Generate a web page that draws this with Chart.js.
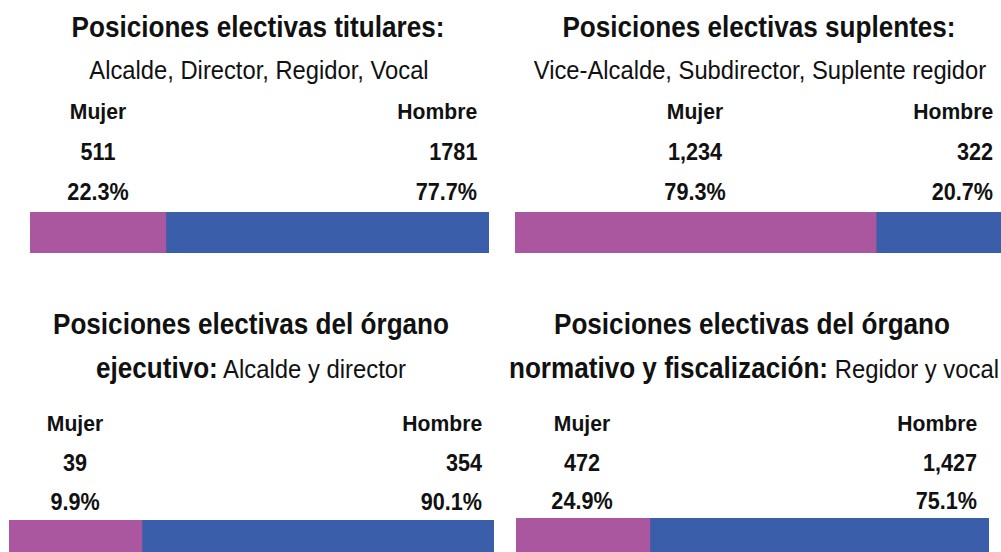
<!DOCTYPE html>
<html lang="es">
<head>
<meta charset="utf-8">
<script src="https://cdn.jsdelivr.net/npm/chart.js@4/dist/chart.umd.min.js"></script>
<style>
  html, body { margin: 0; padding: 0; background: #fff; }
  #page {
    position: relative; width: 1001px; height: 552px; overflow: hidden;
    font-family: "Liberation Sans", Arial, sans-serif;
    color: #111;
  }
  .t { position: absolute; white-space: nowrap; line-height: 1; }
  .b { font-weight: bold; }
  canvas { position: absolute; }
</style>
</head>
<body>
<div id="page"></div>
<script>
// chart data
const titleLines = ['Posiciones electivas titulares:', 'Posiciones electivas suplentes:',
  'Posiciones electivas del órgano', 'Posiciones electivas del órgano'];
const subtitleBold = ['', '', 'ejecutivo:', 'normativo y fiscalización:'];
const subtitleText = ['Alcalde, Director, Regidor, Vocal', 'Vice-Alcalde, Subdirector, Suplente regidor',
  'Alcalde y director', 'Regidor y vocal'];
const sexLabels = ['Mujer', 'Hombre'];
const mujerCount = ['511', '1,234', '39', '472'];
const hombreCount = ['1781', '322', '354', '1,427'];
const mujerPct = ['22.3%', '79.3%', '9.9%', '24.9%'];
const hombrePct = ['77.7%', '20.7%', '90.1%', '75.1%'];
// bar segment lengths as drawn in the picture (share of bar, %)
const barMujer = [29.6, 74.3, 27.4, 28.3];
const barHombre = [70.4, 25.7, 72.6, 71.7];

const MUJER_COLOR = '#aa579f';
const HOMBRE_COLOR = '#3a5ea9';

// where each panel goes
const panels = [
  {titleX: 258, titleY: 27, subX: 259, subY: 70, leftX: 98, rightX: 477, rows: [112, 152, 192],
   bar: {x: 30, y: 212, w: 459, h: 41}},
  {titleX: 759, titleY: 27, subX: 760, subY: 70, leftX: 695, rightX: 993, rows: [112, 152, 192],
   bar: {x: 515, y: 212, w: 486, h: 41}},
  {titleX: 251, titleY: 324, subX: 251, subY: 367, leftX: 75, rightX: 482, rows: [424, 463, 502],
   bar: {x: 9, y: 520, w: 485, h: 32}},
  {titleX: 752, titleY: 324, subX: 754, subY: 367, leftX: 582, rightX: 977, rows: [424, 463, 501],
   bar: {x: 516, y: 518, w: 473, h: 34}},
];

// the reference type is a condensed grotesque: taller glyphs squeezed sideways
const TITLE = {size: 29, squeeze: 0.9};
const SUB = {size: 25, squeeze: 0.95};
const LABEL = {size: 22, squeeze: 0.96};
const NUM = {size: 24, squeeze: 0.9};
// second title line that mixes bold title type with plain text
const SUB2 = {size: 26.5, squeeze: 0.9};

const page = document.getElementById('page');

function addText(html, x, y, font, align, bold) {
  let el = document.createElement('div');
  el.className = 't' + (bold ? ' b' : '');
  el.innerHTML = html;
  el.style.fontSize = font.size + 'px';
  el.style.top = (y - font.size / 2) + 'px';
  if (align == 'center') {
    el.style.left = x + 'px';
    el.style.transform = `translateX(-50%) scaleX(${font.squeeze})`;
  } else {
    el.style.right = (1001 - x) + 'px';
    el.style.transformOrigin = 'right center';
    el.style.transform = `scaleX(${font.squeeze})`;
  }
  page.appendChild(el);
  return el;
}

panels.forEach((p, i) => {
  addText(titleLines[i], p.titleX, p.titleY, TITLE, 'center', true);
  if (subtitleBold[i]) {
    addText(`<b style="font-size:${TITLE.size}px">${subtitleBold[i]}</b> ${subtitleText[i]}`,
      p.subX, p.subY, SUB2, 'center', false);
  } else {
    addText(subtitleText[i], p.subX, p.subY, SUB, 'center', false);
  }

  addText(sexLabels[0], p.leftX, p.rows[0], LABEL, 'center', true);
  addText(sexLabels[1], p.rightX, p.rows[0], LABEL, 'right', true);
  addText(mujerCount[i], p.leftX, p.rows[1], NUM, 'center', true);
  addText(hombreCount[i], p.rightX, p.rows[1], NUM, 'right', true);
  addText(mujerPct[i], p.leftX, p.rows[2], NUM, 'center', true);
  addText(hombrePct[i], p.rightX, p.rows[2], NUM, 'right', true);

  let canvas = document.createElement('canvas');
  canvas.width = p.bar.w;
  canvas.height = p.bar.h;
  canvas.style.left = p.bar.x + 'px';
  canvas.style.top = p.bar.y + 'px';
  canvas.style.width = p.bar.w + 'px';
  canvas.style.height = p.bar.h + 'px';
  page.appendChild(canvas);

  new Chart(canvas, {
    type: 'bar',
    data: {
      labels: [titleLines[i]],
      datasets: [
        {label: sexLabels[0], data: [barMujer[i]], backgroundColor: MUJER_COLOR,
         borderWidth: 0, barPercentage: 1, categoryPercentage: 1},
        {label: sexLabels[1], data: [barHombre[i]], backgroundColor: HOMBRE_COLOR,
         borderWidth: 0, barPercentage: 1, categoryPercentage: 1},
      ]
    },
    options: {
      indexAxis: 'y',
      responsive: false,
      animation: false,
      layout: {padding: 0},
      scales: {
        x: {stacked: true, min: 0, max: 100, display: false},
        y: {stacked: true, display: false}
      },
      plugins: {legend: {display: false}, tooltip: {enabled: false}}
    }
  });
});
</script>
</body>
</html>
